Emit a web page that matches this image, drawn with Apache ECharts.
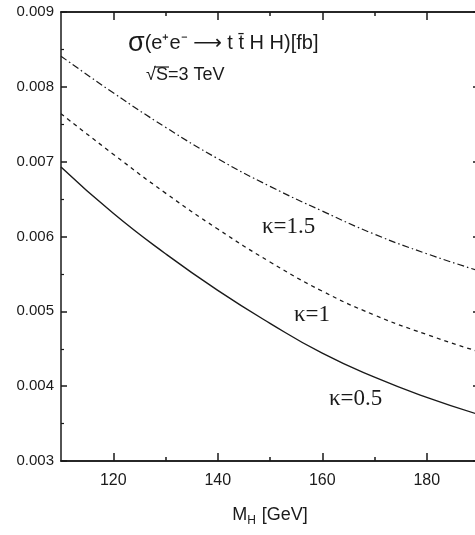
<!DOCTYPE html>
<html>
<head>
<meta charset="utf-8">
<script src="https://cdn.jsdelivr.net/npm/echarts@6/dist/echarts.min.js"></script>
<style>
html,body{margin:0;padding:0;background:#fff;}
#chart{width:475px;height:535px;}
</style>
</head>
<body>
<div id="chart"></div>
<script>
// Higgs mass (GeV)
var massGeV = [110, 120, 130, 140, 150, 160, 170, 180, 190];
// sigma(e+e- -> t tbar H H) [fb], sqrt(s) = 3 TeV
var kappa05 = [0.00693, 0.00631, 0.00577, 0.00528, 0.00484, 0.00444, 0.00412, 0.00385, 0.00362];
var kappa10 = [0.00764, 0.00710, 0.00658, 0.00610, 0.00566, 0.00527, 0.00495, 0.00469, 0.00446];
var kappa15 = [0.00841, 0.00792, 0.00746, 0.00704, 0.00667, 0.00634, 0.00603, 0.00577, 0.00554];
var seriesNames = ['κ=0.5', 'κ=1', 'κ=1.5'];
var xMajorTicks = [120, 140, 160, 180];
var xMinorTicks = [130, 150, 170];

function pairs(xs, ys) { return xs.map(function (x, i) { return [x, ys[i]]; }); }

var ink = '#1a1a1a';
var tickFont = '"Liberation Sans",Arial,sans-serif';
var serif = '"Liberation Serif","Times New Roman",serif';
var sans = '"Liberation Sans",Arial,sans-serif';

function xAxisDef(pos, ticks, showLabels, len) {
  return {
    type: 'value', position: pos, min: 110, max: 190, interval: 10,
    axisLine: { show: true, onZero: false, lineStyle: { color: ink, width: 1.5 } },
    axisTick: { show: true, inside: true, length: len, customValues: ticks, lineStyle: { color: ink, width: 1.5 } },
    axisLabel: showLabels ? { show: true, customValues: ticks, margin: 12, color: ink, fontSize: 16, fontFamily: tickFont } : { show: false },
    splitLine: { show: false }
  };
}
function yAxisDef(pos, showLabels) {
  return {
    type: 'value', position: pos, min: 0.003, max: 0.009, interval: 0.001,
    axisLine: { show: true, onZero: false, lineStyle: { color: ink, width: 1.5 } },
    axisTick: { show: true, inside: true, length: 6, lineStyle: { color: ink, width: 1.5 } },
    minorTick: { show: true, splitNumber: 2, length: 3, lineStyle: { color: ink, width: 1.2 } },
    axisLabel: showLabels ? { show: true, margin: 7, color: ink, fontSize: 15, fontFamily: tickFont,
      formatter: function (v) { return v.toFixed(3); } } : { show: false },
    splitLine: { show: false }, minorSplitLine: { show: false }
  };
}

var xb = xAxisDef('bottom', xMajorTicks, true, 8);
xb.name = 'M{sub|H} [GeV]';
xb.nameLocation = 'middle';
xb.nameGap = 42;
xb.nameTextStyle = { color: ink, fontSize: 18, fontFamily: sans,
  rich: { sub: { fontSize: 12, fontFamily: sans, color: ink, padding: [12, 1, 0, 0] } } };

var option = {
  animation: false,
  backgroundColor: '#fff',
  grid: { left: 61, width: 418, top: 12, height: 449, containLabel: false, outerBoundsMode: 'none' },
  xAxis: [
    xb,
    xAxisDef('bottom', xMinorTicks, false, 4),
    xAxisDef('top', xMajorTicks, false, 8),
    xAxisDef('top', xMinorTicks, false, 4)
  ],
  yAxis: [yAxisDef('left', true), yAxisDef('right', false)],
  series: [
    { name: seriesNames[0], type: 'line', data: pairs(massGeV, kappa05), smooth: true, showSymbol: false,
      lineStyle: { color: ink, width: 1.4, type: 'solid' } },
    { name: seriesNames[1], type: 'line', data: pairs(massGeV, kappa10), smooth: true, showSymbol: false,
      lineStyle: { color: ink, width: 1.3, type: [4, 4] } },
    { name: seriesNames[2], type: 'line', data: pairs(massGeV, kappa15), smooth: true, showSymbol: false,
      lineStyle: { color: ink, width: 1.2, type: [7, 3, 1.5, 3] } }
  ],
  graphic: [
    { type: 'text', left: 128, top: 30, style: {
        text: '{s|σ}(e⁺e⁻ {a|⟶} t t̄ H H)[fb]', fill: ink, fontSize: 20, fontFamily: sans,
        rich: { s: { fontSize: 27, fontFamily: sans, fill: ink }, a: { fontSize: 20, fontFamily: 'DejaVu Sans', fill: ink } } } },
    { type: 'text', left: 146, top: 66, style: { text: '√S=3 TeV', fill: ink, fontSize: 18, fontFamily: sans } },
    { type: 'line', shape: { x1: 154, y1: 67, x2: 169, y2: 67 }, style: { stroke: ink, lineWidth: 1.2 } },
    { type: 'text', left: 262, top: 215, style: { text: seriesNames[2], fill: ink, fontSize: 23, fontFamily: serif } },
    { type: 'text', left: 294, top: 303, style: { text: seriesNames[1], fill: ink, fontSize: 23, fontFamily: serif } },
    { type: 'text', left: 329, top: 387, style: { text: seriesNames[0], fill: ink, fontSize: 23, fontFamily: serif } }
  ]
};

var chart = echarts.init(document.getElementById('chart'), null, { renderer: 'canvas' });
chart.setOption(option);
</script>
</body>
</html>
